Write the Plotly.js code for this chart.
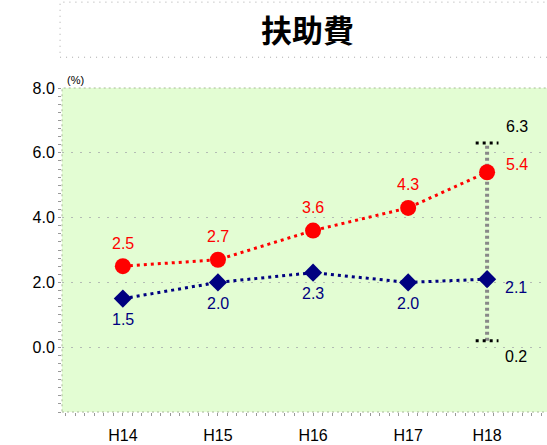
<!DOCTYPE html>
<html><head><meta charset="utf-8">
<script src="https://cdn.plot.ly/plotly-3.0.1.min.js"></script>
<style>html,body{margin:0;padding:0;background:#fff}#c{width:547px;height:445px}</style>
</head><body><div id="c"></div>
<script>
const categories = ["H14","H15","H16","H17","H18"];
const catPos = [0, 1, 2, 3, 3.83];
const redVals = [2.5, 2.7, 3.6, 4.3, 5.4];
const navyVals = [1.5, 2.0, 2.3, 2.0, 2.1];
const rangeLow = 0.2, rangeHigh = 6.3;
const yTicks = [0, 2, 4, 6, 8];

const F = "Liberation Sans, Arial, sans-serif";
const last = catPos[catPos.length-1];
const capW = 0.12;

const traces = [
  {x:[last,last], y:[rangeLow,rangeHigh], mode:"lines", line:{color:"#888888", width:4, dash:"3px,3px"}, hoverinfo:"skip"},
  {x:[last-capW,last+capW], y:[rangeHigh,rangeHigh], mode:"lines", line:{color:"#000", width:3, dash:"3px,4px"}, hoverinfo:"skip"},
  {x:[last-capW,last+capW], y:[rangeLow,rangeLow], mode:"lines", line:{color:"#000", width:3, dash:"3px,4px"}, hoverinfo:"skip"},
  {x:catPos, y:navyVals, mode:"lines+markers", line:{color:"#000080", width:3, dash:"3px,4px"},
   marker:{symbol:"diamond", size:14, color:"#000080"}},
  {x:catPos, y:redVals, mode:"lines+markers", line:{color:"#ff0000", width:3, dash:"3px,4px"},
   marker:{symbol:"circle", size:16, color:"#ff0000"}}
];

const ann = [];
redVals.forEach((v,i)=>{
  const isLast = i===catPos.length-1;
  ann.push({x:catPos[i], y:v, xref:"x", yref:"y", text:v.toFixed(1), showarrow:false,
    font:{family:F, size:16, color:"#ff0000"},
    xshift: isLast?30:0, yshift: isLast?8:23});
});
navyVals.forEach((v,i)=>{
  const isLast = i===catPos.length-1;
  ann.push({x:catPos[i], y:v, xref:"x", yref:"y", text:v.toFixed(1), showarrow:false,
    font:{family:F, size:16, color:"#000080"},
    xshift: isLast?29:0, yshift: isLast?-8:-21});
});
ann.push({x:last, y:rangeHigh, xref:"x", yref:"y", text:rangeHigh.toFixed(1), showarrow:false,
  font:{family:F, size:16, color:"#000"}, xshift:30, yshift:17});
ann.push({x:last, y:rangeLow, xref:"x", yref:"y", text:rangeLow.toFixed(1), showarrow:false,
  font:{family:F, size:16, color:"#000"}, xshift:29, yshift:-16});
ann.push({x:0, y:1, xref:"paper", yref:"paper", text:"(%)", showarrow:false, xanchor:"left", yanchor:"bottom",
  font:{family:F, size:11, color:"#000"}, xshift:3, yshift:0});

const layout = {
  width:547, height:445,
  margin:{l:62, r:0, t:88, b:33},
  paper_bgcolor:"#ffffff", plot_bgcolor:"#e3fdd3",
  showlegend:false,
  title:{text:"<b>扶助費</b>", font:{family:"Noto Sans CJK JP, sans-serif", size:31, color:"#000"},
    x:0.562, xanchor:"center", y:0.93, yanchor:"middle"},
  xaxis:{range:[-0.64, 4.46], tickvals:catPos, ticktext:categories, showgrid:false, zeroline:false,
    ticks:"", tickfont:{family:F, size:16, color:"#000"}, ticklabelstandoff:12,
    minor:{dtick:0.1, tick0:0, ticks:"outside", ticklen:3, tickcolor:"#999", showgrid:false},
    showline:false, fixedrange:true},
  yaxis:{range:[-2, 8], tickvals:yTicks, ticktext:yTicks.map(v=>v.toFixed(1)),
    showgrid:true, gridcolor:"#b4bcb4", griddash:"2px,7px", gridwidth:1, zeroline:false,
    ticks:"outside", ticklen:3, tickcolor:"#999", tickfont:{family:F, size:16, color:"#000"},
    minor:{dtick:0.25, tick0:0, ticks:"outside", ticklen:3, tickcolor:"#999", showgrid:false},
    showline:false, fixedrange:true},
  shapes:[
    {type:"rect", xref:"paper", yref:"paper", x0:0, x1:1.01, y0:0, y1:1, line:{color:"#a8b898", width:1, dash:"2px,3px"}, layer:"above"},
    {type:"rect", xref:"paper", yref:"paper", x0:-0.004, x1:1.02, y0:1.095, y1:1.265, line:{color:"#aaaaaa", width:1, dash:"1px,5px"}}
  ],
  annotations: ann
};

Plotly.newPlot("c", traces, layout, {displayModeBar:false, staticPlot:true});
</script>
</body></html>
